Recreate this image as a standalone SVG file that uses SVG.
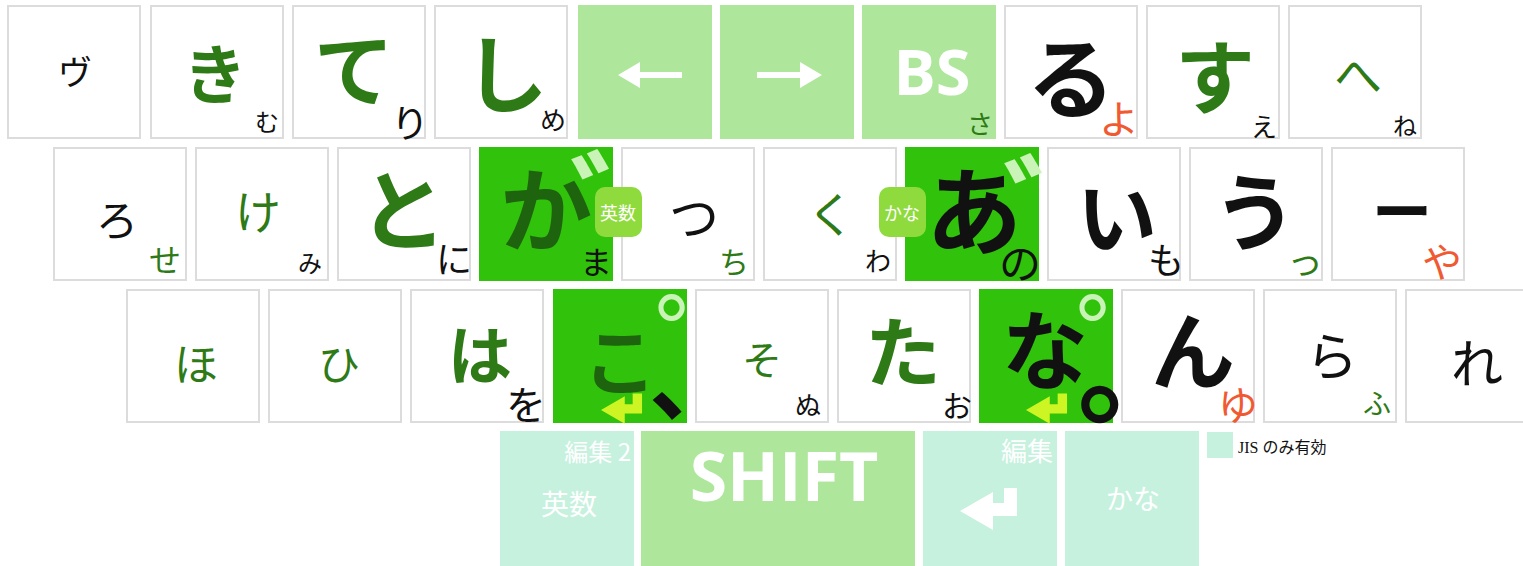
<svg xmlns="http://www.w3.org/2000/svg" width="1523" height="566" viewBox="0 0 1523 566">
<style>
.w{fill:#ffffff;stroke:#dcdcdc;stroke-width:2}
.lg{fill:#aee79b}
.bg{fill:#31c30b}
.mt{fill:#c6f1de}
.bd{fill:#8fdb3e}
text{font-family:"Noto Sans CJK JP",sans-serif;text-anchor:middle}
.b{fill:#111111}
.g{fill:#2e7a16}
.r{fill:#f05a32}
.dg{fill:#1e640e}
.lt{fill:#c9f3b7}
.wh{fill:#ffffff}
.h{font-weight:bold}
.en{font-family:"Open Sans","Liberation Sans",sans-serif;font-weight:bold;fill:#ffffff}
</style>
<defs>
<path id="ret" d="M44,-23 H57 V5 H33 V19 L0,0 L33,-19 V-8 H44 Z"/>
</defs>
<rect width="1523" height="566" fill="#ffffff"/>
<!-- Row 1 -->
<g id="key-vu"><rect class="w" x="8" y="6" width="132" height="132"/><text class="b" x="75" y="85" font-size="34">ヴ</text></g>
<g id="key-ki"><rect class="w" x="151" y="6" width="132" height="132"/><text class="g h" x="215" y="98" font-size="64">き</text><text class="b" x="267" y="131" font-size="24">む</text></g>
<g id="key-te"><rect class="w" x="293" y="6" width="132" height="132"/><text class="g h" x="354" y="100" font-size="80">て</text><text class="b" x="410" y="137" font-size="38">り</text></g>
<g id="key-shi"><rect class="w" x="435" y="6" width="132" height="132"/><text class="g h" x="506" y="106" font-size="84">し</text><text class="b" x="553" y="130" font-size="26">め</text></g>
<g id="key-left"><rect class="lg" x="578" y="5" width="134" height="134"/><path fill="#ffffff" d="M618,75 L640,62 V72 H682 V78 H640 V88 Z"/></g>
<g id="key-right"><rect class="lg" x="720" y="5" width="134" height="134"/><path fill="#ffffff" d="M822,75 L800,62 V72 H757 V78 H800 V88 Z"/></g>
<g id="key-bs"><rect class="lg" x="862" y="5" width="134" height="134"/><text class="en" x="932" y="95" font-size="63">BS</text><text class="g" x="980" y="134" font-size="26">さ</text></g>
<g id="key-ru"><rect class="w" x="1005" y="6" width="132" height="132"/><text class="b h" x="1071" y="111" font-size="88">る</text><text class="r" x="1119" y="134" font-size="40">よ</text></g>
<g id="key-su"><rect class="w" x="1147" y="6" width="132" height="132"/><text class="g h" x="1215" y="107" font-size="80">す</text><text class="b" x="1264" y="137" font-size="26">え</text></g>
<g id="key-he"><rect class="w" x="1289" y="6" width="132" height="132"/><text class="g" x="1358" y="93" font-size="48">へ</text><text class="b" x="1405" y="135" font-size="24">ね</text></g>
<!-- Row 2 -->
<g id="key-ro"><rect class="w" x="54" y="148" width="132" height="132"/><text class="b" x="117" y="236" font-size="42">ろ</text><text class="g" x="165" y="272" font-size="32">せ</text></g>
<g id="key-ke"><rect class="w" x="196" y="148" width="132" height="132"/><text class="g" x="258" y="229" font-size="46">け</text><text class="b" x="310" y="272" font-size="24">み</text></g>
<g id="key-to"><rect class="w" x="338" y="148" width="132" height="132"/><text class="g h" x="403" y="243" font-size="88">と</text><text class="b" x="454" y="273" font-size="36">に</text></g>
<g id="key-ka"><rect class="bg" x="479" y="147" width="134" height="134"/><text class="dg h" x="546" y="245" font-size="92">か</text><text class="lt h" x="630" y="252" font-size="120">゛</text><text class="b" x="596" y="274" font-size="32">ま</text></g>
<g id="key-tsu"><rect class="w" x="622" y="148" width="132" height="132"/><text class="b" x="694" y="236" font-size="50">つ</text><text class="g" x="734" y="273" font-size="30">ち</text></g>
<g id="key-ku"><rect class="w" x="764" y="148" width="132" height="132"/><text class="g" x="831" y="232" font-size="48">く</text><text class="b" x="878" y="271" font-size="26">わ</text></g>
<g id="key-a"><rect class="bg" x="905" y="147" width="134" height="134"/><text class="b h" x="974" y="247" font-size="96">あ</text><text class="lt h" x="1063" y="256" font-size="120">゛</text><text class="b" x="1020" y="279" font-size="42">の</text></g>
<g id="key-i"><rect class="w" x="1048" y="148" width="132" height="132"/><text class="b h" x="1117" y="247" font-size="80">い</text><text class="b" x="1166" y="274" font-size="36">も</text></g>
<g id="key-u"><rect class="w" x="1190" y="148" width="132" height="132"/><text class="b h" x="1255" y="244" font-size="84">う</text><text class="g" x="1305" y="275" font-size="36">っ</text></g>
<g id="key-choon"><rect class="w" x="1332" y="148" width="132" height="132"/><text class="b h" x="1402" y="234" font-size="60">ー</text><text class="r" x="1442" y="277" font-size="40">や</text></g>
<g id="badge-eisu"><rect class="bd" x="595" y="187" width="47" height="50" rx="10"/><text class="wh" x="618" y="220" font-size="18">英数</text></g>
<g id="badge-kana"><rect class="bd" x="879" y="187" width="47" height="50" rx="10"/><text class="wh" x="902" y="220" font-size="18">かな</text></g>
<!-- Row 3 -->
<g id="key-ho"><rect class="w" x="127" y="290" width="132" height="132"/><text class="g" x="196" y="381" font-size="44">ほ</text></g>
<g id="key-hi"><rect class="w" x="269" y="290" width="132" height="132"/><text class="g" x="339" y="380" font-size="42">ひ</text></g>
<g id="key-ha"><rect class="w" x="411" y="290" width="132" height="132"/><text class="g h" x="480" y="379" font-size="64">は</text><text class="b" x="526" y="420" font-size="40">を</text></g>
<g id="key-ko"><rect class="bg" x="553" y="289" width="134" height="134"/><text class="dg h" x="620" y="389" font-size="74">こ</text><text class="lt" x="713" y="389" font-size="115">゜</text><text class="b h" x="694" y="413" font-size="90">、</text><use href="#ret" fill="#cdf523" transform="translate(601,410) scale(0.72)"/></g>
<g id="key-so"><rect class="w" x="696" y="290" width="132" height="132"/><text class="g" x="762" y="375" font-size="40">そ</text><text class="b" x="808" y="415" font-size="26">ぬ</text></g>
<g id="key-ta"><rect class="w" x="838" y="290" width="132" height="132"/><text class="g h" x="903" y="381" font-size="76">た</text><text class="b" x="957" y="417" font-size="30">お</text></g>
<g id="key-na"><rect class="bg" x="979" y="289" width="134" height="134"/><text class="b h" x="1045" y="383" font-size="86">な</text><text class="lt" x="1134" y="389" font-size="115">゜</text><text class="b h" x="1135" y="414" font-size="115">。</text><use href="#ret" fill="#cdf523" transform="translate(1026,410) scale(0.72)"/></g>
<g id="key-n"><rect class="w" x="1122" y="290" width="132" height="132"/><text class="b h" x="1193" y="383" font-size="84">ん</text><text class="r" x="1238" y="420" font-size="40">ゆ</text></g>
<g id="key-ra"><rect class="w" x="1264" y="290" width="132" height="132"/><text class="b" x="1332" y="376" font-size="52">ら</text><text class="g" x="1377" y="414" font-size="28">ふ</text></g>
<g id="key-re"><rect class="w" x="1406" y="290" width="132" height="132"/><text class="b" x="1477" y="383" font-size="52">れ</text></g>
<!-- Row 4 -->
<g id="key-eisu"><rect class="mt" x="500" y="431" width="134" height="135"/><text class="wh" x="631" y="461" font-size="24" style="text-anchor:end">編集 2</text><text class="wh" x="569" y="515" font-size="28">英数</text></g>
<g id="key-shift"><rect class="lg" x="641" y="431" width="274" height="135"/><text class="en" x="784" y="501" font-size="68">SHIFT</text></g>
<g id="key-enter"><rect class="mt" x="923" y="431" width="134" height="135"/><text class="wh" x="1053" y="461" font-size="26" style="text-anchor:end">編集</text><use href="#ret" fill="#ffffff" transform="translate(960,511)"/></g>
<g id="key-kana"><rect class="mt" x="1065" y="431" width="134" height="135"/><text class="wh" x="1133" y="509" font-size="27">かな</text></g>
<g id="legend"><rect class="mt" x="1207" y="432" width="26" height="26"/><text class="b" x="1238" y="453" font-size="16" style="text-anchor:start;font-family:'Liberation Serif','Noto Sans CJK JP',serif">JIS のみ有効</text></g>
<g id="connectors"></g>
</svg>
